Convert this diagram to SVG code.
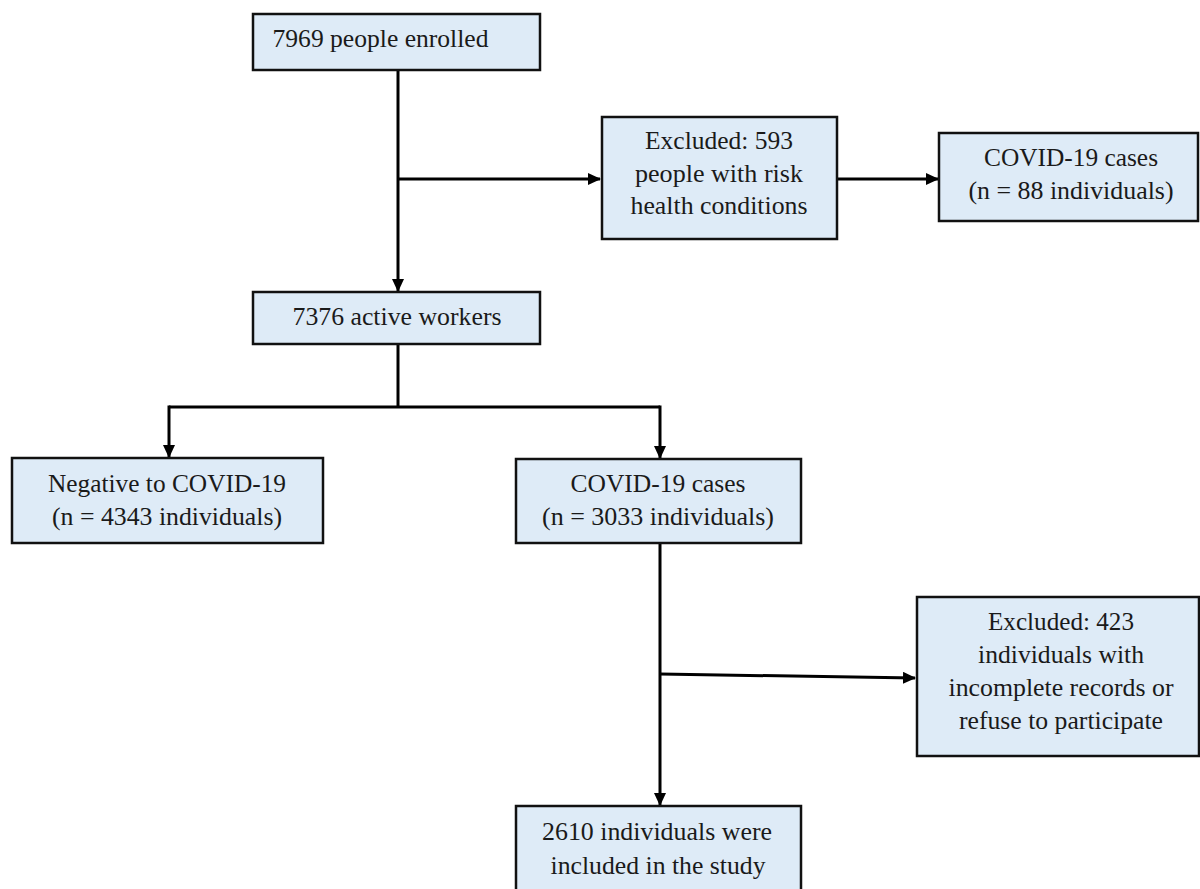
<svg xmlns="http://www.w3.org/2000/svg" width="1200" height="889" viewBox="0 0 1200 889">
<style>
.box{fill:#deebf7;stroke:#111;stroke-width:2.5}
text{font-family:"Liberation Serif","Times New Roman",serif;font-size:25px;fill:#1a1a1a;text-anchor:middle}
.c{fill:none;stroke:#000;stroke-width:3}
</style>
<defs>
<marker id="ah" markerWidth="13" markerHeight="12" refX="12" refY="6" orient="auto" markerUnits="userSpaceOnUse">
<path d="M0,0 L13,6 L0,12 Z" fill="#000"/>
</marker>
</defs>
<rect width="1200" height="889" fill="#fff"/>
<g id="connectors">
<path class="c" d="M398,70 V291" marker-end="url(#ah)"/>
<path class="c" d="M398,179 H600" marker-end="url(#ah)"/>
<path class="c" d="M837,179 H938" marker-end="url(#ah)"/>
<path class="c" d="M398,344 V407"/>
<path class="c" d="M169,407 H660"/>
<path class="c" d="M169,405.5 V457" marker-end="url(#ah)"/>
<path class="c" d="M660,405.5 V458" marker-end="url(#ah)"/>
<path class="c" d="M660,543 V805" marker-end="url(#ah)"/>
<path class="c" d="M660,674 L915,678" marker-end="url(#ah)"/>
</g>
<g id="n1"><rect class="box" x="253" y="14" width="287" height="56"/><text x="380.5" y="47" textLength="216" lengthAdjust="spacingAndGlyphs">7969  people enrolled</text></g>
<g id="n2"><rect class="box" x="602" y="117" width="235" height="122"/><text x="719" y="149" textLength="148" lengthAdjust="spacingAndGlyphs">Excluded: 593</text><text x="719" y="182" textLength="168" lengthAdjust="spacingAndGlyphs">people with risk</text><text x="719" y="214" textLength="177" lengthAdjust="spacingAndGlyphs">health conditions</text></g>
<g id="n3"><rect class="box" x="939" y="133" width="259" height="88"/><text x="1071" y="166" textLength="174" lengthAdjust="spacingAndGlyphs">COVID-19 cases</text><text x="1071" y="199" textLength="205" lengthAdjust="spacingAndGlyphs">(n = 88  individuals)</text></g>
<g id="n4"><rect class="box" x="253" y="292" width="287" height="52"/><text x="397" y="325" textLength="209" lengthAdjust="spacingAndGlyphs">7376  active workers</text></g>
<g id="n5"><rect class="box" x="12" y="458" width="311" height="85"/><text x="167" y="492" textLength="238" lengthAdjust="spacingAndGlyphs">Negative to COVID-19</text><text x="167" y="525" textLength="230" lengthAdjust="spacingAndGlyphs">(n = 4343  individuals)</text></g>
<g id="n6"><rect class="box" x="516" y="459" width="285" height="84"/><text x="658" y="492" textLength="175" lengthAdjust="spacingAndGlyphs">COVID-19 cases</text><text x="658" y="525" textLength="232" lengthAdjust="spacingAndGlyphs">(n = 3033  individuals)</text></g>
<g id="n7"><rect class="box" x="917" y="597" width="282" height="159"/><text x="1061" y="630" textLength="146" lengthAdjust="spacingAndGlyphs">Excluded: 423</text><text x="1061" y="663" textLength="166" lengthAdjust="spacingAndGlyphs">individuals with</text><text x="1061" y="696" textLength="225" lengthAdjust="spacingAndGlyphs">incomplete records or</text><text x="1061" y="729" textLength="204" lengthAdjust="spacingAndGlyphs">refuse to participate</text></g>
<g id="n8"><rect class="box" x="516" y="806" width="285" height="90"/><text x="657" y="840" textLength="230" lengthAdjust="spacingAndGlyphs">2610  individuals were</text><text x="658" y="874" textLength="215" lengthAdjust="spacingAndGlyphs">included in the study</text></g>
</svg>
